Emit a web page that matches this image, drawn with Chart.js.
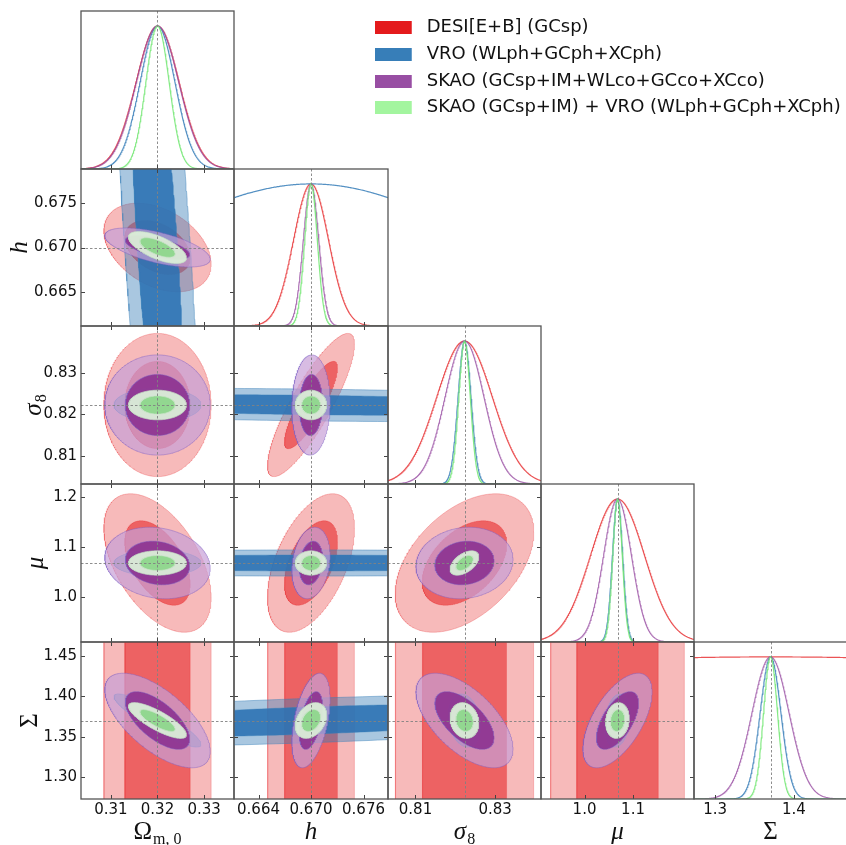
<!DOCTYPE html>
<html><head><meta charset="utf-8">
<script src="https://cdn.jsdelivr.net/npm/chart.js@4.4.1/dist/chart.umd.min.js"></script>
<style>
html,body{margin:0;padding:0;background:#fff;}
#wrap{position:relative;width:846px;height:845px;overflow:hidden;background:#fff;}
#wrap canvas{position:absolute;left:0;top:0;}
</style></head><body><div id="wrap"></div>
<script>
// ---------------- DATA ----------------
const paramSymbol   = ['Ω', 'h', 'σ', 'μ', 'Σ'];
const paramSubscript = ['m, 0', '', '8', '', ''];
const fiducial  = [0.320, 0.670, 0.8223, 1.068, 1.3703];
const halfRange = [0.01641, 0.0088, 0.0192, 0.1577, 0.0970];

const xTickValues = [[0.31, 0.32, 0.33], [0.664, 0.670, 0.676], [0.81, 0.83], [1.0, 1.1], [1.3, 1.4]];
const xTickLabels = [['0.31', '0.32', '0.33'], ['0.664', '0.670', '0.676'], ['0.81', '0.83'], ['1.0', '1.1'], ['1.3', '1.4']];
const yTickValues = [[], [0.665, 0.670, 0.675], [0.81, 0.82, 0.83], [1.0, 1.1, 1.2], [1.30, 1.35, 1.40, 1.45]];
const yTickLabels = [[], ['0.665', '0.670', '0.675'], ['0.81', '0.82', '0.83'], ['1.0', '1.1', '1.2'], ['1.30', '1.35', '1.40', '1.45']];

const probeNames = ['DESI[E+B] (GCsp)', 'VRO (WLph+GCph+XCph)', 'SKAO (GCsp+IM+WLco+GCco+XCco)', 'SKAO (GCsp+IM) + VRO (WLph+GCph+XCph)'];

// marginal 1-sigma errors: [Omega_m0, h, sigma8, mu, Sigma]  (DESI does not constrain Sigma)
const sigmaDESI = [0.00463, 0.00200, 0.00700, 0.0556, 1.0];
const sigmaVRO  = [0.00375, 0.0195, 0.00163, 0.0105, 0.0132];
const sigmaSKAO = [0.00455, 0.00088, 0.00490, 0.0287, 0.0235];
const sigmaComb = [0.00250, 0.00072, 0.00145, 0.0098, 0.0089];

// correlation coefficients for pairs (Om,h) (Om,s8) (Om,mu) (Om,Sig) (h,s8) (h,mu) (h,Sig) (s8,mu) (s8,Sig) (mu,Sig)
const corrDESI = [-0.37, 0.00, -0.50, 0.00, 0.85, 0.50, 0.00, 0.45, 0.00, 0.00];
const corrVRO  = [-0.65, 0.00, 0.00, -0.90, -0.30, 0.00, 0.55, 0.30, -0.20, 0.20];
const corrSKAO = [-0.60, 0.00, -0.15, -0.65, 0.05, 0.20, 0.45, 0.10, -0.60, 0.60];
const corrComb = [-0.65, 0.00, 0.00, -0.80, 0.00, 0.00, 0.30, 0.50, -0.15, 0.10];

// ---------------- STYLE ----------------
const W = 846, H = 845;
const colEdge = [81, 234, 388, 541, 694, 847];
const rowEdge = [11, 169, 326, 484, 642, 799];
const legendColors = ['#e41a1c', '#377eb8', '#984ea3', '#a3f59f'];
const fillLight = ['rgba(228,26,28,0.30)', 'rgba(55,126,184,0.43)', 'rgba(200,160,215,0.70)', 'rgba(219,238,216,0.95)'];
const fillDark  = ['rgba(228,26,28,0.55)', 'rgba(45,115,180,0.90)', 'rgba(140,50,145,0.90)', 'rgba(142,214,140,0.95)'];
const edgeColor = ['rgba(228,26,28,0.30)', 'rgba(55,126,184,0.55)', 'rgba(125,95,195,0.55)', 'rgba(200,230,200,0.8)'];
const lineColor = ['rgba(228,26,28,0.75)', 'rgba(55,126,184,0.85)', 'rgba(152,78,163,0.80)', 'rgba(120,232,120,0.90)'];
const K1 = Math.sqrt(2.30), K2 = Math.sqrt(6.18);
const yTitleX = [0, 27, 41, 43, 37];

Chart.defaults.font.family = 'DejaVu Sans';

const probes = [
  {sigma: sigmaDESI, corr: corrDESI},
  {sigma: sigmaVRO, corr: corrVRO},
  {sigma: sigmaSKAO, corr: corrSKAO},
  {sigma: sigmaComb, corr: corrComb}
];
const pairs = [[0,1],[0,2],[0,3],[0,4],[1,2],[1,3],[1,4],[2,3],[2,4],[3,4]];
function rho(corr, a, b) {
  const lo = Math.min(a, b), hi = Math.max(a, b);
  return corr[pairs.findIndex(p => p[0] === lo && p[1] === hi)];
}
function ellipse(px, py, pr, k) {
  const sx = pr.sigma[px], sy = pr.sigma[py], r = rho(pr.corr, px, py);
  const q = Math.sqrt(1 - r * r), pts = [], N = 360;
  for (let n = 0; n <= N; n++) {
    const t = 2 * Math.PI * n / N, c = Math.cos(t), s = Math.sin(t);
    pts.push({x: fiducial[px] + k * sx * c, y: fiducial[py] + k * sy * (r * c + q * s)});
  }
  return pts;
}
function gauss(p, pr, xmin, xmax) {
  const pts = [], N = 300;
  for (let n = 0; n <= N; n++) {
    const x = xmin + (xmax - xmin) * n / N;
    const d = (x - fiducial[p]) / pr.sigma[p];
    pts.push({x, y: Math.exp(-0.5 * d * d)});
  }
  return pts;
}
function drawLabel(ctx, p, x, y, rotated) {
  const italic = (p === 1 || p === 2 || p === 3);
  const mainFont = (italic ? 'italic ' : '') + '25px "Liberation Serif"';
  const subFont = '16px "Liberation Serif"';
  ctx.save();
  ctx.translate(x, y);
  if (rotated) ctx.rotate(-Math.PI / 2);
  ctx.font = mainFont; const w1 = ctx.measureText(paramSymbol[p]).width;
  const sub = paramSubscript[p];
  ctx.font = subFont; const w2 = sub ? ctx.measureText(sub).width + 1 : 0;
  const x0 = -(w1 + w2) / 2;
  ctx.fillStyle = '#111'; ctx.textAlign = 'left'; ctx.textBaseline = 'alphabetic';
  ctx.font = mainFont; ctx.fillText(paramSymbol[p], x0, 0);
  if (sub) { ctx.font = subFont; ctx.fillText(sub, x0 + w1 + 1, 5); }
  ctx.restore();
}

const panelDeco = {
  id: 'panelDeco',
  afterDatasetsDraw(chart, args, o) {
    const {ctx, chartArea: a} = chart;
    const xs = chart.scales.x, ys = chart.scales.y;
    ctx.save();
    ctx.lineWidth = 1;
    ctx.strokeStyle = 'rgba(130,130,130,0.9)';
    ctx.setLineDash([2.5, 2]);
    const fx = Math.round(xs.getPixelForValue(fiducial[o.col])) + 0.5;
    ctx.beginPath(); ctx.moveTo(fx, a.top); ctx.lineTo(fx, a.bottom); ctx.stroke();
    if (!o.diag) {
      const fy = Math.round(ys.getPixelForValue(fiducial[o.row])) + 0.5;
      ctx.beginPath(); ctx.moveTo(a.left, fy); ctx.lineTo(a.right, fy); ctx.stroke();
    }
    ctx.setLineDash([]);
    ctx.strokeStyle = '#444';
    xTickValues[o.col].forEach(v => {
      const px = Math.round(xs.getPixelForValue(v)) + 0.5;
      ctx.beginPath(); ctx.moveTo(px, a.bottom); ctx.lineTo(px, a.bottom - 4); ctx.stroke();
      if (!o.diag) { ctx.beginPath(); ctx.moveTo(px, a.top); ctx.lineTo(px, a.top + 4); ctx.stroke(); }
    });
    if (!o.diag) {
      yTickValues[o.row].forEach(v => {
        const py = Math.round(ys.getPixelForValue(v)) + 0.5;
        ctx.beginPath(); ctx.moveTo(a.left, py); ctx.lineTo(a.left + 4, py); ctx.stroke();
        ctx.beginPath(); ctx.moveTo(a.right, py); ctx.lineTo(a.right - 4, py); ctx.stroke();
      });
    }
    ctx.strokeStyle = '#555'; ctx.lineWidth = 1.3;
    const rightX = o.col === 4 ? a.right + 3 : a.right;
    ctx.strokeRect(a.left, a.top, rightX - a.left, a.bottom - a.top);
    ctx.restore();
  },
  afterDraw(chart, args, o) {
    const {ctx, chartArea: a} = chart;
    if (o.row === 4) drawLabel(ctx, o.col, (colEdge[o.col] + colEdge[o.col + 1]) / 2, 839, false);
    if (o.col === 0 && !o.diag) drawLabel(ctx, o.row, yTitleX[o.row], (a.top + a.bottom) / 2, true);
  }
};

const wrap = document.getElementById('wrap');

function buildPanel(i, j) {
  const cv = document.createElement('canvas');
  cv.width = W; cv.height = H; cv.style.width = W + 'px'; cv.style.height = H + 'px';
  wrap.appendChild(cv);
  const diag = i === j;
  const left = colEdge[j], rightFull = colEdge[j + 1], right = Math.min(rightFull, W);
  const top = rowEdge[i], bottom = rowEdge[i + 1];
  const xmin = fiducial[j] - halfRange[j];
  const xmax = xmin + (right - left) / (rightFull - left) * 2 * halfRange[j];
  const showX = i === 4, showY = (j === 0 && !diag);

  const datasets = [];
  probes.forEach((pr, pi) => {
    if (diag) {
      datasets.push({data: gauss(j, pr, xmin, xmax), borderColor: lineColor[pi], borderWidth: 1.2, fill: false, pointRadius: 0, tension: 0});
    } else {
      datasets.push({data: ellipse(j, i, pr, K2), fill: 'shape', backgroundColor: fillLight[pi], borderColor: edgeColor[pi], borderWidth: 0.8, pointRadius: 0, tension: 0});
      datasets.push({data: ellipse(j, i, pr, K1), fill: 'shape', backgroundColor: fillDark[pi], borderColor: edgeColor[pi], borderWidth: 0.8, pointRadius: 0, tension: 0});
    }
  });
  datasets.forEach((d, n) => { d.order = datasets.length - n; });

  const xScale = {
    type: 'linear', min: xmin, max: xmax, display: showX, position: 'bottom',
    grid: {display: false, drawTicks: false}, border: {display: false},
    ticks: {font: {size: 15, family: 'DejaVu Sans'}, color: '#111', padding: 2, autoSkip: false, maxRotation: 0,
      callback: (v, idx) => xTickLabels[j][idx]},
    afterBuildTicks: s => { s.ticks = xTickValues[j].map(v => ({value: v})); }
  };
  if (showX) xScale.afterFit = s => { s.height = H - rowEdge[5]; };
  const yScale = {
    type: 'linear', display: showY, position: 'left',
    min: diag ? 0 : fiducial[i] - halfRange[i], max: diag ? 1.105 : fiducial[i] + halfRange[i],
    grid: {display: false, drawTicks: false}, border: {display: false},
    ticks: {font: {size: 15, family: 'DejaVu Sans'}, color: '#111', padding: 4, autoSkip: false,
      callback: (v, idx) => (yTickLabels[i][idx] || '')},
    afterBuildTicks: s => { s.ticks = diag ? [] : yTickValues[i].map(v => ({value: v})); }
  };
  if (showY) yScale.afterFit = s => { s.width = colEdge[0]; };

  new Chart(cv, {
    type: 'line',
    data: {datasets},
    options: {
      responsive: false, animation: false, devicePixelRatio: 1, events: [],
      layout: {padding: {left: showY ? 0 : left, right: W - right, top: top, bottom: showX ? 0 : H - bottom}},
      plugins: {legend: {display: false}, tooltip: {enabled: false}, panelDeco: {row: i, col: j, diag}},
      scales: {x: xScale, y: yScale}
    },
    plugins: [panelDeco]
  });
}

for (let i = 0; i < 5; i++) for (let j = 0; j <= i; j++) buildPanel(i, j);

// ---------------- LEGEND ----------------
function legendSwatch(color) {
  const c = document.createElement('canvas');
  c.width = 43; c.height = 13;
  const g = c.getContext('2d');
  g.fillStyle = color; g.fillRect(0, 0, 37, 13);
  return c;
}
const lg = document.createElement('canvas');
lg.width = 480; lg.height = 130;
lg.style.left = '366px'; lg.style.top = '10px'; lg.style.width = '480px'; lg.style.height = '130px';
wrap.appendChild(lg);
new Chart(lg, {
  type: 'bar',
  data: {labels: [], datasets: probeNames.map((n, k) => ({label: n, data: [], backgroundColor: legendColors[k]}))},
  options: {
    responsive: false, animation: false, devicePixelRatio: 1, events: [],
    scales: {x: {display: false}, y: {display: false}},
    plugins: {
      tooltip: {enabled: false},
      legend: {
        display: true, position: 'left', align: 'start', maxWidth: 478,
        labels: {
          usePointStyle: true, pointStyleWidth: 43, boxHeight: 13, padding: 8.7,
          color: '#111', font: {size: 18, family: 'DejaVu Sans'},
          generateLabels: chart => chart.data.datasets.map((d, k) => ({
            text: d.label, fillStyle: legendColors[k], strokeStyle: 'rgba(0,0,0,0)', lineWidth: 0,
            pointStyle: legendSwatch(legendColors[k]), hidden: false, datasetIndex: k, fontColor: '#111'
          }))
        }
      }
    }
  }
});
</script></body></html>
